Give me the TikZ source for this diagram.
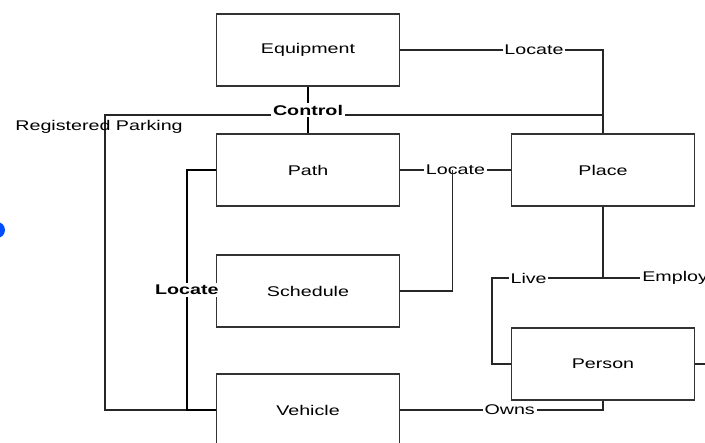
\documentclass[tikz,border=0pt]{standalone}
\usepackage{fontspec}
\setmainfont{Liberation Sans}[FakeStretch=1.4]
\usetikzlibrary{calc}

\begin{document}
\begin{tikzpicture}[x=0.02cm, y=-0.02cm,
  font=\fontsize{8}{9}\selectfont,
  box/.style={draw=black!80, line width=0.7pt, minimum width=3.66cm, minimum height=1.44cm, fill=white},
  lbl/.style={fill=white, inner sep=1pt},
  conn/.style={draw=black!85, line width=0.6pt},
  bconn/.style={draw=black, line width=1.1pt}]
  \useasboundingbox (0,0) rectangle (705,442);
  \clip (0,0) rectangle (705,442);
  \fill[blue!70!cyan] (-3,230) circle (8);

  \node[box] (equip)  at (308,50)  {Equipment};
  \node[box] (path)   at (308,170) {Path};
  \node[box] (sched)  at (308,291) {Schedule};
  \node[box] (veh)    at (308,410) {Vehicle};
  \node[box] (place)  at (603,170) {Place};
  \node[box] (person) at (603,364) {Person};

  \coordinate (regL) at (105,115);
  \coordinate (jn) at ($(path.east)!0.47!(place.west)$);
  \coordinate (pj) at (603,278);

  % control / registered parking
  \path[conn] (veh.west) -| (regL) -- (regL -| place.north);
  \path[bconn] (equip.south) -- node[lbl, font=\fontsize{8}{9}\selectfont\bfseries] {Control} (path.north);
  \node[anchor=west, inner sep=0pt] (reg) at (15,127) {Registered Parking};

  \path[conn] (equip.east) -| node[lbl, pos=0.33] {Locate} (place.north);
  \path[conn] (path.east) -- node[lbl] {Locate} (place.west);
  \path[conn] (sched.east) -| (jn);
  \path[bconn] (path.west) -- ++(-29,0) |- node[lbl, pos=0.25, font=\fontsize{8}{9}\selectfont\bfseries] {Locate} (veh.west);

  \path[conn] (place.south) -- (pj);
  \path[conn] (pj) -- node[lbl, pos=0.67] {Live} (pj -| 492,0) |- (person.west);
  \path[conn] (pj) -- (640,278) node[lbl, anchor=west] {Employ};
  \path[conn] (person.east) -- ++(20,0);
  \path[conn] (person.south) |- node[lbl, pos=0.73] {Owns} (veh.east);
\end{tikzpicture}
\end{document}
